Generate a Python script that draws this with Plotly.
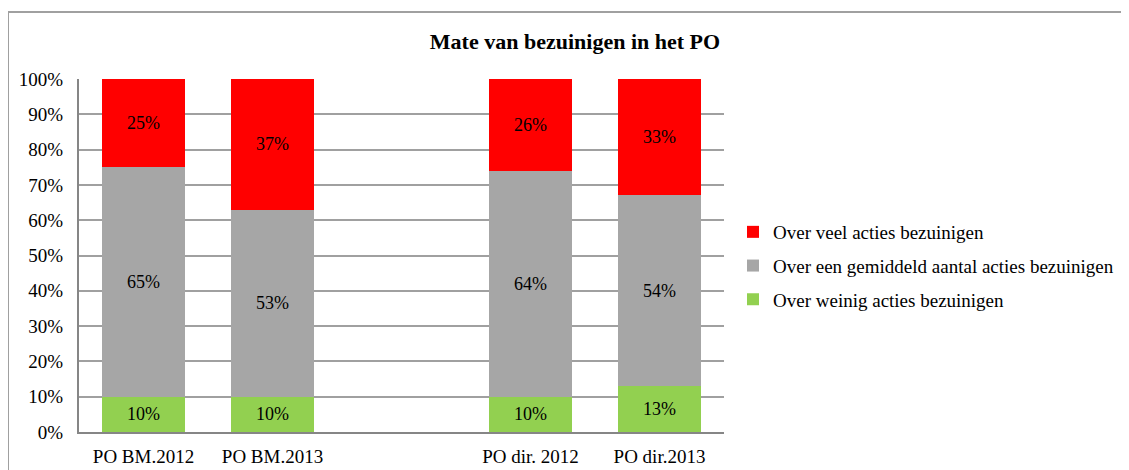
import plotly.graph_objects as go

categories = ["PO BM.2012", "PO BM.2013", " ", "PO dir. 2012", "PO dir.2013"]
weinig = [10, 10, None, 10, 13]
gemiddeld = [65, 53, None, 64, 54]
veel = [25, 37, None, 26, 33]
tick_vals = [0, 10, 20, 30, 40, 50, 60, 70, 80, 90, 100]
tick_text = [f"{v}%" for v in tick_vals]

FONT = "Liberation Serif"
series = [
    ("Over weinig acties bezuinigen", weinig, "#92d050", 3),
    ("Over een gemiddeld aantal acties bezuinigen", gemiddeld, "#a6a6a6", 2),
    ("Over veel acties bezuinigen", veel, "#ff0000", 1),
]

fig = go.Figure()
for i, (name, vals, color, rank) in enumerate(series):
    fig.add_trace(go.Bar(
        x=categories, y=vals, name=name, marker_color=color,
        marker_line_width=0,
        text=[f"{v}%" if v is not None else "" for v in vals],
        textposition="inside", insidetextanchor="middle", textangle=0,
        constraintext="none",
        textfont=dict(family=FONT, size=18, color="black"),
        legendgroup=str(i), legendrank=rank,
    ))

# page body has an 8px margin; figure coordinates = screen - 8
OFF = 8
W, H = 1121, 462
L, T = 79 - OFF, 79 - OFF
pw, ph = 645, 353
R = W - L - pw
B = H - T - ph

def px(xs):
    return (xs - OFF - L) / pw

def py(ys):
    return (T + ph - (ys - OFF)) / ph

fig.update_layout(
    width=W, height=H,
    barmode="stack", bargap=0.36,
    paper_bgcolor="white", plot_bgcolor="white",
    margin=dict(l=L, r=R, t=T, b=B, pad=0, autoexpand=False),
    font=dict(family=FONT, size=19, color="black"),
    title=dict(text="<b>Mate van bezuinigen in het PO</b>", x=px(575), xref="paper",
               xanchor="center", y=1 - (41 - OFF) / H, yanchor="middle",
               font=dict(family=FONT, size=22, color="black")),
    showlegend=True,
    legend=dict(x=px(733), xanchor="left", y=py(213), yanchor="top",
                traceorder="grouped", tracegroupgap=6,
                itemwidth=30, font=dict(family=FONT, size=19, color="black"),
                bgcolor="rgba(0,0,0,0)"),
    xaxis=dict(type="category", showgrid=False, ticks="", showline=True,
               linecolor="#868686", linewidth=2, ticklabelstandoff=6,
               automargin=False,
               tickfont=dict(family=FONT, size=19, color="black")),
    yaxis=dict(range=[0, 100], tickvals=tick_vals, ticktext=tick_text,
               showgrid=True, gridcolor="#a0a0a0", gridwidth=1.5,
               showline=True, linecolor="#868686", linewidth=2, ticks="",
               zeroline=False, ticklabelstandoff=10, automargin=False,
               tickfont=dict(family=FONT, size=19, color="black")),
    shapes=[
        dict(type="line", xref="paper", yref="paper",
             x0=px(8), x1=px(1135), y0=py(12), y1=py(12),
             line=dict(color="#a0a0a0", width=2), layer="below"),
        dict(type="line", xref="paper", yref="paper",
             x0=px(8), x1=px(8), y0=py(12), y1=py(475),
             line=dict(color="#a0a0a0", width=2), layer="below"),
    ],
)

fig.write_html("out.html")
